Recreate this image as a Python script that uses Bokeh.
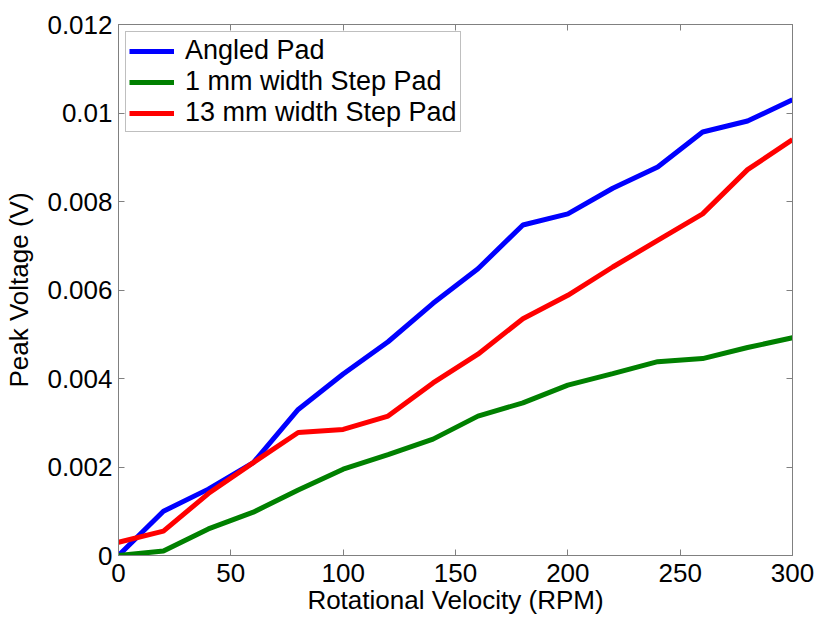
from bokeh.plotting import figure
from bokeh.models import (Range1d, FixedTicker, CustomJSTickFormatter, LinearAxis,
                          Legend, LegendItem)
from bokeh.embed import file_html
from bokeh.resources import INLINE

rpm = [0, 20, 40, 60, 80, 100, 120, 140, 160, 180, 200, 220, 240, 260, 280, 300]
angled_pad = [0.0, 0.00100, 0.00150, 0.00210, 0.00330, 0.00410, 0.00483, 0.00570,
              0.00648, 0.00747, 0.00772, 0.00830, 0.00878, 0.00957, 0.00982, 0.01030]
step_1mm = [0.0, 0.00010, 0.00060, 0.00098, 0.00148, 0.00195, 0.00228, 0.00263,
            0.00315, 0.00345, 0.00385, 0.00411, 0.00438, 0.00445, 0.00470, 0.00492]
step_13mm = [0.00030, 0.00055, 0.00140, 0.00210, 0.00278, 0.00285, 0.00315, 0.00390,
             0.00455, 0.00535, 0.00588, 0.00652, 0.00712, 0.00772, 0.00872, 0.00940]

x_ticks = [0, 50, 100, 150, 200, 250, 300]
y_ticks = [0, 0.002, 0.004, 0.006, 0.008, 0.01, 0.012]

series_names = ["Angled Pad", "1 mm width Step Pad", "13 mm width Step Pad"]
colors = ["#0000ff", "#008000", "#ff0000"]

FONT = "Liberation Sans"
FS = "26px"

p = figure(width=817, height=618, output_backend="svg", toolbar_location=None,
           x_range=Range1d(0, 300), y_range=Range1d(0, 0.012),
           min_border_left=118, min_border_right=25, min_border_top=24, min_border_bottom=63)
p.xgrid.visible = False
p.ygrid.visible = False
p.outline_line_color = "#808080"
p.outline_line_width = 1

renderers = []
for ys, c in zip([angled_pad, step_1mm, step_13mm], colors):
    r = p.line(rpm, ys, line_color=c, line_width=5)
    renderers.append(r)

fmt = CustomJSTickFormatter(code="""
var s = tick.toFixed(3);
if (s.indexOf('.') >= 0) { s = s.replace(/0+$/, '').replace(/\\.$/, ''); }
return s;
""")

for ax in p.xaxis:
    ax.ticker = FixedTicker(ticks=x_ticks)
    ax.axis_label = "Rotational Velocity (RPM)"
    ax.major_label_standoff = 8
    ax.axis_label_standoff = 0
for ax in p.yaxis:
    ax.ticker = FixedTicker(ticks=y_ticks)
    ax.formatter = fmt
    ax.axis_label = "Peak Voltage (V)"
    ax.major_label_standoff = 6
    ax.axis_label_standoff = 10

for ax in list(p.xaxis) + list(p.yaxis):
    ax.axis_line_color = "#808080"
    ax.major_tick_line_color = "#808080"
    ax.major_tick_in = 6
    ax.major_tick_out = 0
    ax.minor_tick_line_color = None
    ax.major_label_text_font = FONT
    ax.major_label_text_font_size = FS
    ax.major_label_text_color = "#000000"
    ax.axis_label_text_font = FONT
    ax.axis_label_text_font_size = FS
    ax.axis_label_text_font_style = "normal"
    ax.axis_label_text_color = "#000000"

empty = CustomJSTickFormatter(code="return '';")
top_ax = LinearAxis(ticker=FixedTicker(ticks=x_ticks), formatter=empty,
                    axis_line_color="#808080", major_tick_line_color="#808080",
                    major_tick_in=6, major_tick_out=0, minor_tick_line_color=None,
                    major_label_standoff=0)
right_ax = LinearAxis(ticker=FixedTicker(ticks=y_ticks), formatter=empty,
                      axis_line_color="#808080", major_tick_line_color="#808080",
                      major_tick_in=6, major_tick_out=0, minor_tick_line_color=None,
                      major_label_standoff=0)
p.add_layout(top_ax, "above")
p.add_layout(right_ax, "right")

legend = Legend(items=[LegendItem(label=n, renderers=[r]) for n, r in zip(series_names, renderers)],
                location="top_left")
legend.label_text_font = FONT
legend.label_text_font_size = "27px"
legend.label_text_color = "#000000"
legend.glyph_width = 45
legend.glyph_height = 20
legend.label_height = 20
legend.label_standoff = 11
legend.spacing = 0
legend.padding = 3
legend.margin = 7
legend.border_line_color = "#808080"
legend.border_line_width = 1
legend.background_fill_color = "#ffffff"
legend.background_fill_alpha = 1.0
p.add_layout(legend, "center")

open("out.html", "w").write(file_html(p, INLINE))
